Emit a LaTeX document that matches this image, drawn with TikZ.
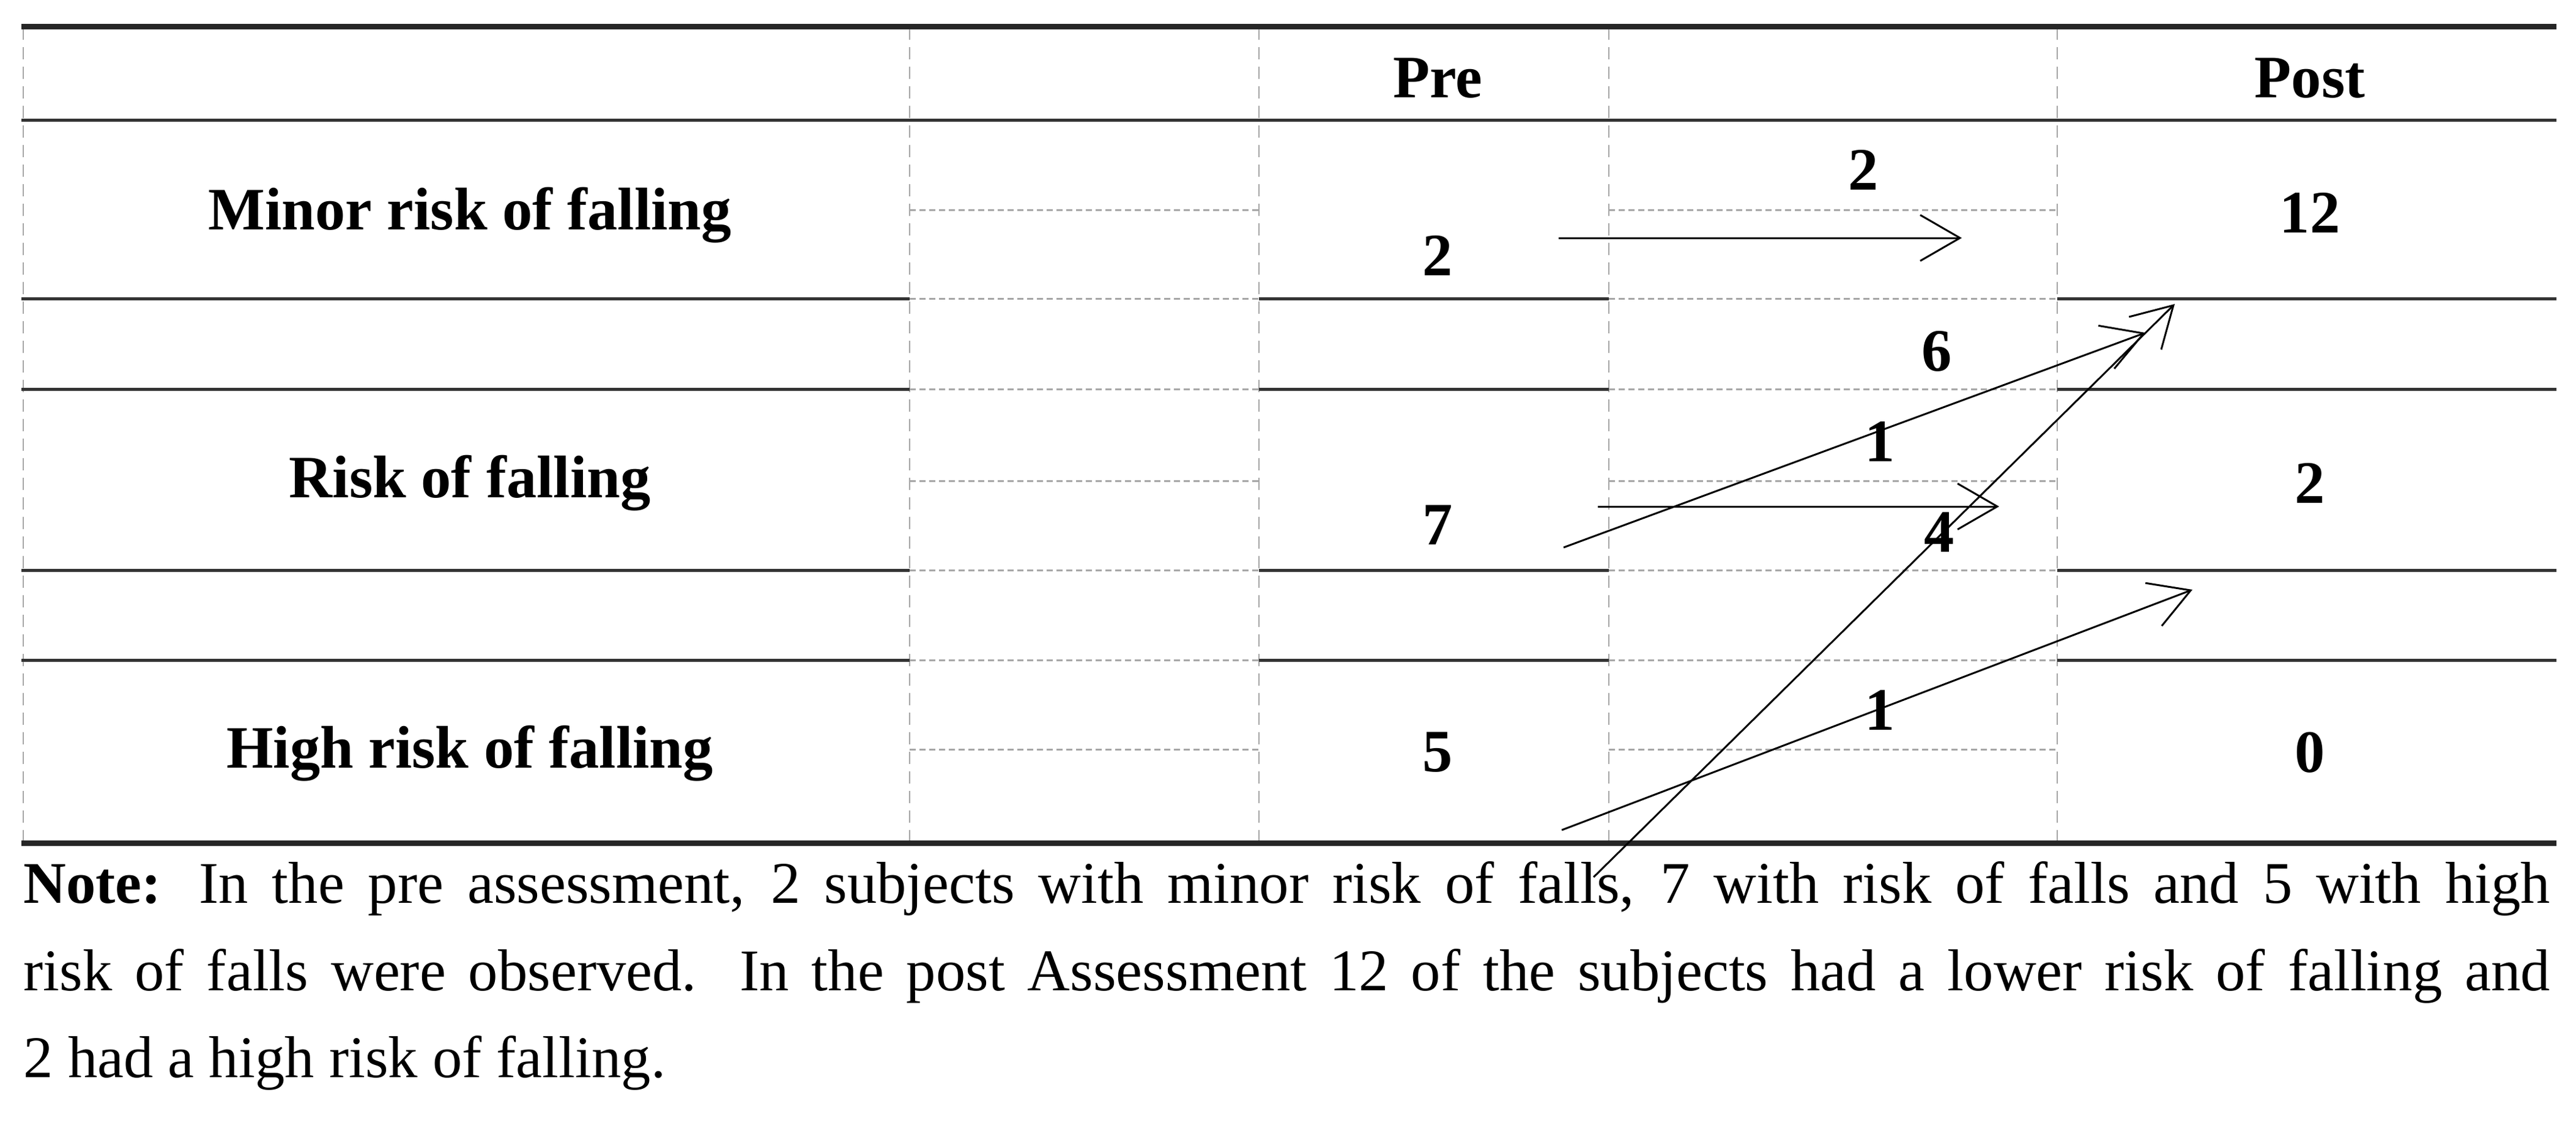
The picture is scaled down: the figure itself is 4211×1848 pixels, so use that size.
\documentclass[tikz,border=0pt]{standalone}
\usepackage{fontspec}
\setmainfont{Liberation Serif}
\usetikzlibrary{arrows.meta}
\begin{document}
\begin{tikzpicture}[x=0.1mm,y=-0.1mm,
  thick line/.style={line width=0.9mm, black!85},
  rule/.style={line width=0.5mm, black!80},
  vdash/.style={line width=0.25mm, gray!70, dash pattern=on 2mm off 1.2mm},
  hdash/.style={line width=0.3mm, gray!70, dash pattern=on 1mm off 0.6mm},
  lab/.style={font=\fontsize{28}{32}\selectfont\bfseries, anchor=center, inner sep=0},
  num/.style={font=\fontsize{28}{32}\selectfont\bfseries, anchor=center, inner sep=0},
  flow/.style={line width=0.3mm, -{Straight Barb[length=6.5mm,width=7.5mm,line width=0.3mm]}}]
\useasboundingbox (0,0) rectangle (4211,1848);
% vertical dashed lines
\foreach \x in {38,1487,2058,2630,3363} \draw[vdash] (\x,45) -- (\x,1376);
% horizontal rules
\draw[thick line] (35,43) -- (4179,43);
\draw[rule] (35,196) -- (4179,196);
\foreach \y in {488,636,932,1079} {
  \draw[rule] (35,\y) -- (1487,\y);
  \draw[hdash] (1487,\y) -- (2058,\y);
  \draw[rule] (2058,\y) -- (2630,\y);
  \draw[hdash] (2630,\y) -- (3363,\y);
  \draw[rule] (3363,\y) -- (4179,\y);
}
\foreach \y in {343,786,1225} {
  \draw[hdash] (1487,\y) -- (2058,\y);
  \draw[hdash] (2630,\y) -- (3363,\y);
}
\draw[thick line] (35,1378) -- (4179,1378);
% headers
\node[lab] (pre) at (2350,128) {Pre};
\node[lab] (post) at (3776,128) {Post};
\node[lab] (r1) at (768,352) {Minor risk of falling};
\node[lab] (r2) at (768,790) {Risk of falling};
\node[lab] (r3) at (768,1232) {High risk of falling};
\node[num] (p1) at (2350,418) {2};
\node[num] (p2) at (2350,858) {7};
\node[num] (p3) at (2350,1230) {5};
\node[num] (q1) at (3776,348) {12};
\node[num] (q2) at (3776,790) {2};
\node[num] (q3) at (3776,1230) {0};
% arrow coordinates
\coordinate (a1s) at (2548,389); \coordinate (a1e) at (3207,389);
\coordinate (a2s) at (2556,895); \coordinate (a2e) at (3507,544);
\coordinate (a3s) at (2612,828); \coordinate (a3e) at (3268,828);
\coordinate (a4s) at (2605,1434); \coordinate (a4e) at (3555,497);
\coordinate (a5s) at (2553,1357); \coordinate (a5e) at (3584,964);
\draw[flow] (a1s) -- (a1e);
\draw[flow] (a2s) -- (a2e);
\draw[flow] (a3s) -- (a3e);
\draw[flow] (a4s) -- (a4e);
\draw[flow] (a5s) -- (a5e);
\node[num] (l1) at (3046,278) {2};
\node[num] (l2) at (3166,574) {6};
\node[num] (l3) at (3073,722) {1};
\node[num] (l4) at (3170,870) {4};
\node[num] (l5) at (3073,1161) {1};
% note
\node[anchor=north west, inner sep=0, text width=413mm, align=justify,
  font=\fontsize{27.5}{40.5}\selectfont] (note) at (38,1408)
 {\textbf{Note:} In the pre assessment, 2 subjects with minor risk of falls, 7 with risk of falls and 5 with high\linebreak
 risk of falls were observed. In the post Assessment 12 of the subjects had a lower risk of falling and\linebreak
 2 had a high risk of falling.};
\end{tikzpicture}
\end{document}
